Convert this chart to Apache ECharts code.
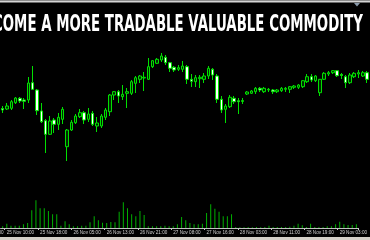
<!DOCTYPE html>
<html><head><meta charset="utf-8">
<script src="https://cdn.jsdelivr.net/npm/echarts@6/dist/echarts.min.js"></script>
<style>html,body{margin:0;padding:0;background:#000;overflow:hidden}#c{width:370px;height:240px;}</style>
</head><body><div id="c"></div>
<script>
// hourly OHLC (price units)
const opens  = [51.5,51,51.7,57.3,61.7,60,60,77.3,70,49, 39.3,25.7,40,35.7,40.7,13.3,30,37.3,43.3,47.3, 40.7,46.7,34,34,42.7,48.3,65,68.3,63.3,66.7, 66.7,76.7,80.7,82,80.7,93.3,96.7,100,102.7,97.3, 92.7,90.7,90.7,93.3,80.7,78.3,81.3,80.7,84,90.7, 84,60.7,50.7,53.3,61.7,59.3,58.5,66,66.7,68.3, 71.7,68.3,70,70,68.3,69.3,70.7,70.7,72.7,72.7, 73.3,78.3,83.3,79.3,67.3,80.7,86,87.3,89.3,85.5, 83.3,77.3,83.3,86,84,87.3];
const closes = [50,54,58.3,62,59,58.7,77,70.7,49.3,38.3, 25.7,39,35.7,42.7,50.7,30,37.7,44,47.3,40, 46,35.7,37,44,50,65,68.3,64,65.7,68.3, 78.3,82.3,84,82.7,93.3,99.3,100.7,104,97.3,91.7, 90,92.3,94,80.7,78.7,82.3,82.7,84,91.7,85, 60.7,50,54,62.7,58.3,58.3,59.5,68,69,71.7, 70,71.7,70.7,68.3,70,71.7,71.7,73.3,74,75, 79.3,83.3,80,84,80.7,86.7,87.3,89.3,84.3,84.5, 77.3,85,86.7,87.3,87.3,80.7];
const lows   = [47,50,50,56,57,51,57,70,45,37, 7,25,27,30,36,-1,29,36,42,36, 38,34,28,32,40,44,60,57,60,52, 65,67,77,69,80,92,96,98,95,88, 88,89,88,76,73,73,72,77,81,80, 57,47,37,52,56,46,56,65,66,66, 68,67,68,66,67,68,68,67,71,71, 72,77,78,78,64,80,84,86,83,81, 72,76,82,82,83,77];
const highs  = [54,57,60,63,63,62,83,94,71,57, 41,44,42,47,53,31,40,46,51,49, 52,49,43,46,52,66,69,70,75,72, 80,84,85,88,102,100,102,107,105,98, 94,95,99,95,86,85,85,87,94,92, 86,64,56,65,64,62,62,69,70,73, 73,73,72,71,71,73,73,74,75,76, 80,86,86,85,81,88,89,90,90,87, 85,87,88,90,89,89];
const volumes = [1.7,4.3,2.3,2.3,2.3,3.7,5,17.7,27.7,19.7, 19.7,17,13.7,13.7,2.3,6.7,3.7,1.7,1.7,2.3, 2.3,5.7,11.7,7.7,5.3,5,6,5.7,16.3,25.7, 19.7,13.7,11.7,17,13,1.7,1.7,1.7,1.7,2.3, 1.7,1.7,3.7,11,7.7,5,3.7,3.7,4.3,15, 23.7,19.3,16.3,11.7,11.7,13.7,1,0.7,0.7,1, 0.7,1,0.7,1,2.3,1,1,1,1,1.3, 2.3,4.3,2.7,1,4.3,1,1,1,1.7,1.7, 3.7,6.3,3.7,3,3,3.7];
const tickLabels = ['25 Nov 10:00','25 Nov 18:00','26 Nov 05:00','26 Nov 13:00','26 Nov 21:00','27 Nov 08:00','27 Nov 16:00','28 Nov 03:00','28 Nov 11:00','28 Nov 19:00','29 Nov 03:00'];
const cutTickLabel = '25 Nov 02:00';
const firstTickBar = 1, barsPerTick = 8;
const titleText = 'BECOME A MORE TRADABLE VALUABLE COMMODITY';

const categories = opens.map((_, i) => String(i));
const isTick = (i) => i >= firstTickBar && (i - firstTickBar) % barsPerTick === 0;
const ohlc = opens.map((o, i) => [o, closes[i], lows[i], highs[i]]);

const chart = echarts.init(document.getElementById('c'), null, {renderer: 'canvas'});
const labelFont = '"Liberation Sans",sans-serif';
chart.setOption({
  backgroundColor: '#000',
  animation: false,
  grid: [
    {left: 0.56, right: 0.8, top: 0, bottom: 70},
    {left: 0.56, right: 0.8, bottom: 12, height: 40}
  ],
  xAxis: [
    {type: 'category', gridIndex: 0, data: categories, boundaryGap: true, show: false},
    {type: 'category', gridIndex: 1, data: categories, boundaryGap: true,
     axisLine: {show: true, lineStyle: {color: '#c0c0c0', width: 1}},
     axisTick: {show: true, interval: (i) => isTick(i), length: 2, lineStyle: {color: '#c0c0c0'}},
     axisLabel: {interval: (i) => isTick(i), align: 'left', margin: 2.5, hideOverlap: false,
       showMinLabel: true, showMaxLabel: true,
       formatter: (v, i) => tickLabels[(i - firstTickBar) / barsPerTick] || '',
       color: '#d0d0d0', fontSize: 4.6, fontFamily: labelFont},
     splitLine: {show: false}}
  ],
  yAxis: [
    {type: 'value', gridIndex: 0, min: -10, max: 160, show: false, splitLine: {show: false}},
    {type: 'value', gridIndex: 1, min: 0, max: 40, show: false, splitLine: {show: false}}
  ],
  series: [
    {type: 'candlestick', xAxisIndex: 0, yAxisIndex: 0, data: ohlc, barWidth: 3,
     itemStyle: {color: '#002800', color0: '#ffffff', borderColor: '#00e000', borderColor0: '#00e000', borderWidth: 1}},
    {type: 'bar', xAxisIndex: 1, yAxisIndex: 1, data: volumes, barWidth: 1,
     itemStyle: {color: '#00b000'}}
  ],
  graphic: [
    {type: 'rect', shape: {x: 0, y: 0, width: 370, height: 1}, style: {fill: '#8c8c8c'}},
    {type: 'rect', shape: {x: 0, y: 1, width: 370, height: 1.5}, style: {fill: '#d4d4d4'}},
    {type: 'rect', shape: {x: 0, y: 237, width: 370, height: 3}, style: {fill: '#d4d0c8'}},
    {type: 'polygon', shape: {points: [[354, 3], [360, 3], [357, 6.5]]}, style: {fill: '#8899aa'}},
    {type: 'text', x: 363, y: 25, scaleX: 0.645, scaleY: 1.03,
     style: {text: titleText, fill: '#ffffff', font: 'bold 23px "DejaVu Sans Condensed",sans-serif',
             textAlign: 'right', textVerticalAlign: 'middle', align: 'right', verticalAlign: 'middle'}},
    {type: 'text', x: 3.5, y: 232.5,
     style: {text: cutTickLabel, fill: '#d0d0d0', font: '4.6px ' + labelFont,
             textAlign: 'right', textVerticalAlign: 'middle', align: 'right', verticalAlign: 'middle'}}
  ]
});
</script>
</body></html>
